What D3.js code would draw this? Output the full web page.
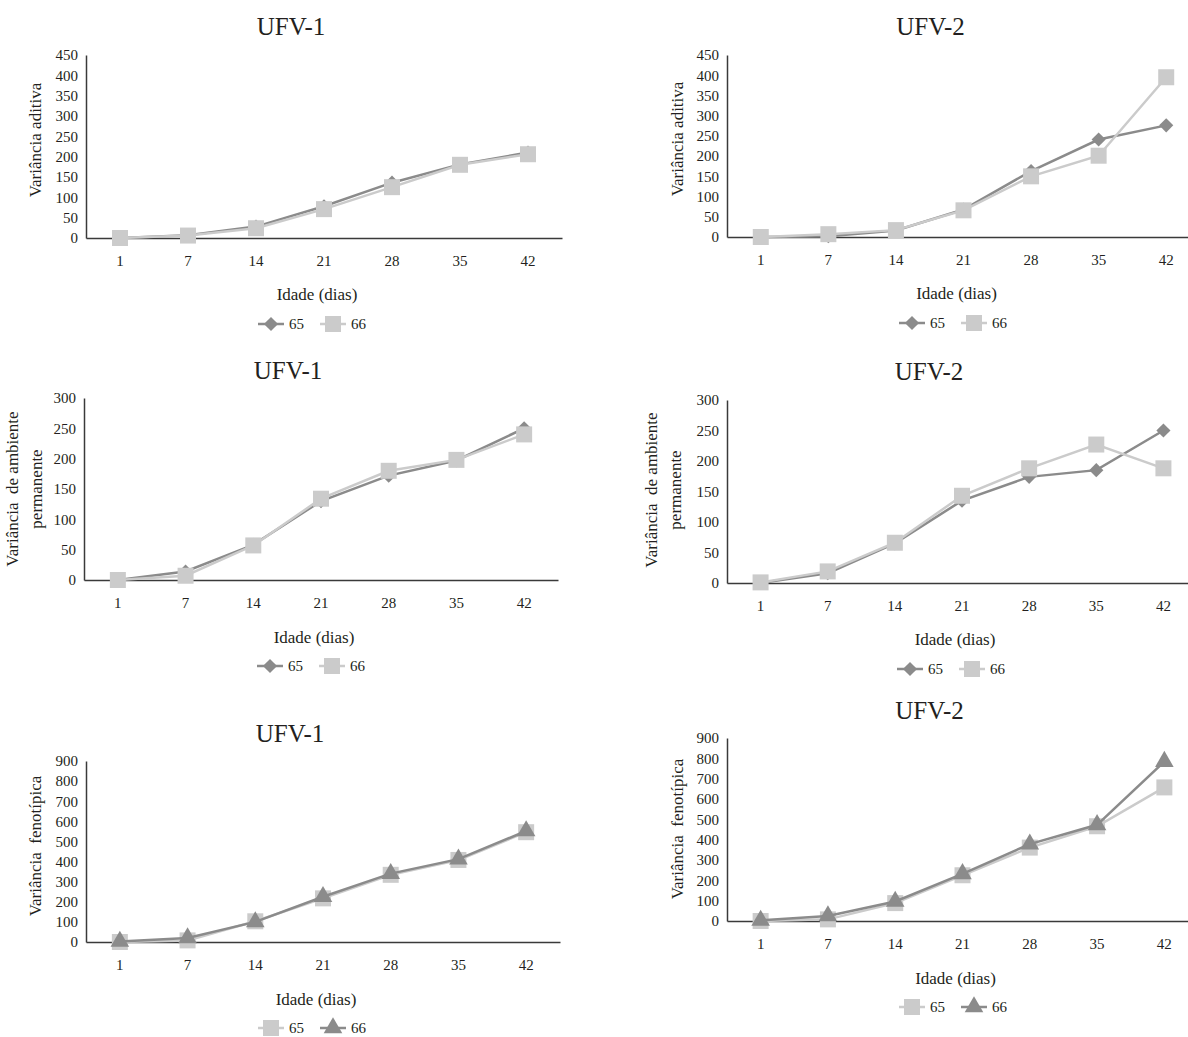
<!DOCTYPE html>
<html>
<head>
<meta charset="utf-8">
<script src="https://cdn.jsdelivr.net/npm/d3@7"></script>
<style>
  body { margin: 0; background: #fff; }
  svg text { font-family: "Liberation Serif", "Times New Roman", serif; fill: #231f20; white-space: pre; }
</style>
</head>
<body>
<div id="chart"></div>
<script>
// idade (dias) on the x axis
const dias = ["1", "7", "14", "21", "28", "35", "42"];
const legendLabels = ["65", "66"];

// variancia aditiva
const aditivaUfv1_65 = [0, 7, 28, 78, 136, 181, 210];
const aditivaUfv1_66 = [0, 6, 24, 71, 125, 180, 206];
const aditivaUfv2_65 = [0, 2, 16, 68, 163, 241, 276];
const aditivaUfv2_66 = [0, 7, 17, 66, 150, 201, 395];

// variancia de ambiente permanente
const ambienteUfv1_65 = [0, 14, 58, 130, 172, 197, 250];
const ambienteUfv1_66 = [0, 7, 57, 134, 180, 198, 240];
const ambienteUfv2_65 = [0, 16, 65, 135, 174, 185, 250];
const ambienteUfv2_66 = [1, 19, 66, 143, 188, 227, 188];

// variancia fenotipica
const fenotipicaUfv1_65 = [0, 8, 103, 217, 334, 408, 546];
const fenotipicaUfv1_66 = [3, 20, 100, 225, 340, 412, 552];
const fenotipicaUfv2_65 = [0, 8, 88, 225, 361, 466, 657];
const fenotipicaUfv2_66 = [3, 25, 96, 232, 378, 473, 784];

const ticksAditiva = [0, 50, 100, 150, 200, 250, 300, 350, 400, 450];
const ticksAmbiente = [0, 50, 100, 150, 200, 250, 300];
const ticksFenotipica = [0, 100, 200, 300, 400, 500, 600, 700, 800, 900];

const dark = "#8b8b8b",
    light = "#cbcbcb";

// one entry per panel, only layout lives here
let panels = [
  {title: "UFV-1", left: 86, right: 562, top: 55, bottom: 238, ticks: ticksAditiva,
   series: [aditivaUfv1_65, aditivaUfv1_66], marks: ["diamond", "square"], colors: [dark, light],
   yTitle: ["Variância aditiva"], yTitleX: 35, yTitleY: 140, titleY: 35, xTitleY: 300, legendY: 324, legendX: 258},
  {title: "UFV-2", left: 727, right: 1200, top: 55, bottom: 237, ticks: ticksAditiva,
   series: [aditivaUfv2_65, aditivaUfv2_66], marks: ["diamond", "square"], colors: [dark, light],
   yTitle: ["Variância aditiva"], yTitleX: 677, yTitleY: 139, titleY: 35, xTitleY: 299, legendY: 323, legendX: 899},
  {title: "UFV-1", left: 84, right: 558, top: 398, bottom: 580, ticks: ticksAmbiente,
   series: [ambienteUfv1_65, ambienteUfv1_66], marks: ["diamond", "square"], colors: [dark, light],
   yTitle: ["Variância  de ambiente", "permanente"], yTitleX: 24, yTitleY: 489, titleY: 379, xTitleY: 643, legendY: 666, legendX: 257},
  {title: "UFV-2", left: 727, right: 1197, top: 400, bottom: 583, ticks: ticksAmbiente,
   series: [ambienteUfv2_65, ambienteUfv2_66], marks: ["diamond", "square"], colors: [dark, light],
   yTitle: ["Variância  de ambiente", "permanente"], yTitleX: 663, yTitleY: 490, titleY: 380, xTitleY: 645, legendY: 669, legendX: 897},
  {title: "UFV-1", left: 86, right: 560, top: 761, bottom: 942, ticks: ticksFenotipica,
   series: [fenotipicaUfv1_65, fenotipicaUfv1_66], marks: ["square", "triangle"], colors: [light, dark],
   yTitle: ["Variância  fenotípica"], yTitleX: 35, yTitleY: 846, titleY: 742, xTitleY: 1005, legendY: 1028, legendX: 258},
  {title: "UFV-2", left: 727, right: 1198, top: 738, bottom: 921, ticks: ticksFenotipica,
   series: [fenotipicaUfv2_65, fenotipicaUfv2_66], marks: ["square", "triangle"], colors: [light, dark],
   yTitle: ["Variância  fenotípica"], yTitleX: 677, yTitleY: 829, titleY: 719, xTitleY: 984, legendY: 1007, legendX: 899}
];

let svg = d3.select("#chart")
    .append("svg")
    .attr("width", 1188)
    .attr("height", 1037);

// marker shapes
function markerPath(type) {
  if (type === "diamond") return d3.symbol().type(d3.symbolSquare).size(100)();
  if (type === "square") return d3.symbol().type(d3.symbolSquare).size(256)();
  return d3.symbol().type(d3.symbolTriangle).size(150)();
}

function drawMarker(g, type, color, x, y) {
  g.append("path")
    .attr("d", markerPath(type))
    .attr("fill", color)
    .attr("transform", "translate(" + x + "," + y + ")" + (type === "diamond" ? " rotate(45)" : ""));
}

panels.forEach(function(p) {
  let g = svg.append("g");

  let x = d3.scaleBand()
      .domain(dias)
      .range([p.left, p.right]);

  let y = d3.scaleLinear()
      .domain([0, d3.max(p.ticks)])
      .range([p.bottom, p.top]);

  // title
  g.append("text")
    .attr("x", (p.left + p.right) / 2 - 33)
    .attr("y", p.titleY)
    .attr("text-anchor", "middle")
    .style("font-size", "25px")
    .text(p.title);

  // y axis
  let yAxis = g.append("g")
    .attr("transform", "translate(" + p.left + ",0)")
    .call(d3.axisLeft(y).tickValues(p.ticks).tickSize(0).tickPadding(8).tickFormat(d3.format("d")));
  yAxis.selectAll("text").style("font-size", "15px");

  // x axis
  let xAxis = g.append("g")
    .attr("transform", "translate(0," + p.bottom + ")")
    .call(d3.axisBottom(x).tickSize(0).tickPadding(17));
  xAxis.selectAll("text").style("font-size", "15px");

  g.selectAll(".domain")
    .attr("stroke", "#3a3a3a")
    .attr("stroke-width", 1.5);

  // y title, one or two lines
  let yt = g.append("text")
    .attr("transform", "translate(" + p.yTitleX + "," + p.yTitleY + ") rotate(-90)")
    .attr("text-anchor", "middle")
    .style("font-size", "17px");
  p.yTitle.forEach(function(line, i) {
    yt.append("tspan")
      .attr("x", 0)
      .attr("y", (i - (p.yTitle.length - 1) / 2) * 24 + 6)
      .text(line);
  });

  // x title
  g.append("text")
    .attr("x", (p.left + p.right) / 2 - 7)
    .attr("y", p.xTitleY)
    .attr("text-anchor", "middle")
    .style("font-size", "17px")
    .text("Idade (dias)");

  // lines and markers, second series on top
  const line = d3.line()
      .x(function(d, i) { return x(dias[i]) + x.bandwidth() / 2; })
      .y(function(d) { return y(d); });

  p.series.forEach(function(values, s) {
    g.append("path")
      .datum(values)
      .attr("fill", "none")
      .attr("stroke", p.colors[s])
      .attr("stroke-width", 2.5)
      .attr("d", line);

    values.forEach(function(v, i) {
      drawMarker(g, p.marks[s], p.colors[s], x(dias[i]) + x.bandwidth() / 2, y(v));
    });
  });

  // legend
  legendLabels.forEach(function(label, s) {
    let lx = p.legendX + s * 62;
    g.append("line")
      .attr("x1", lx)
      .attr("x2", lx + 26)
      .attr("y1", p.legendY)
      .attr("y2", p.legendY)
      .attr("stroke", p.colors[s])
      .attr("stroke-width", 2.5);
    drawMarker(g, p.marks[s], p.colors[s], lx + 13, p.legendY);
    g.append("text")
      .attr("x", lx + 31)
      .attr("y", p.legendY + 5)
      .style("font-size", "15px")
      .text(label);
  });
});
</script>
</body>
</html>
